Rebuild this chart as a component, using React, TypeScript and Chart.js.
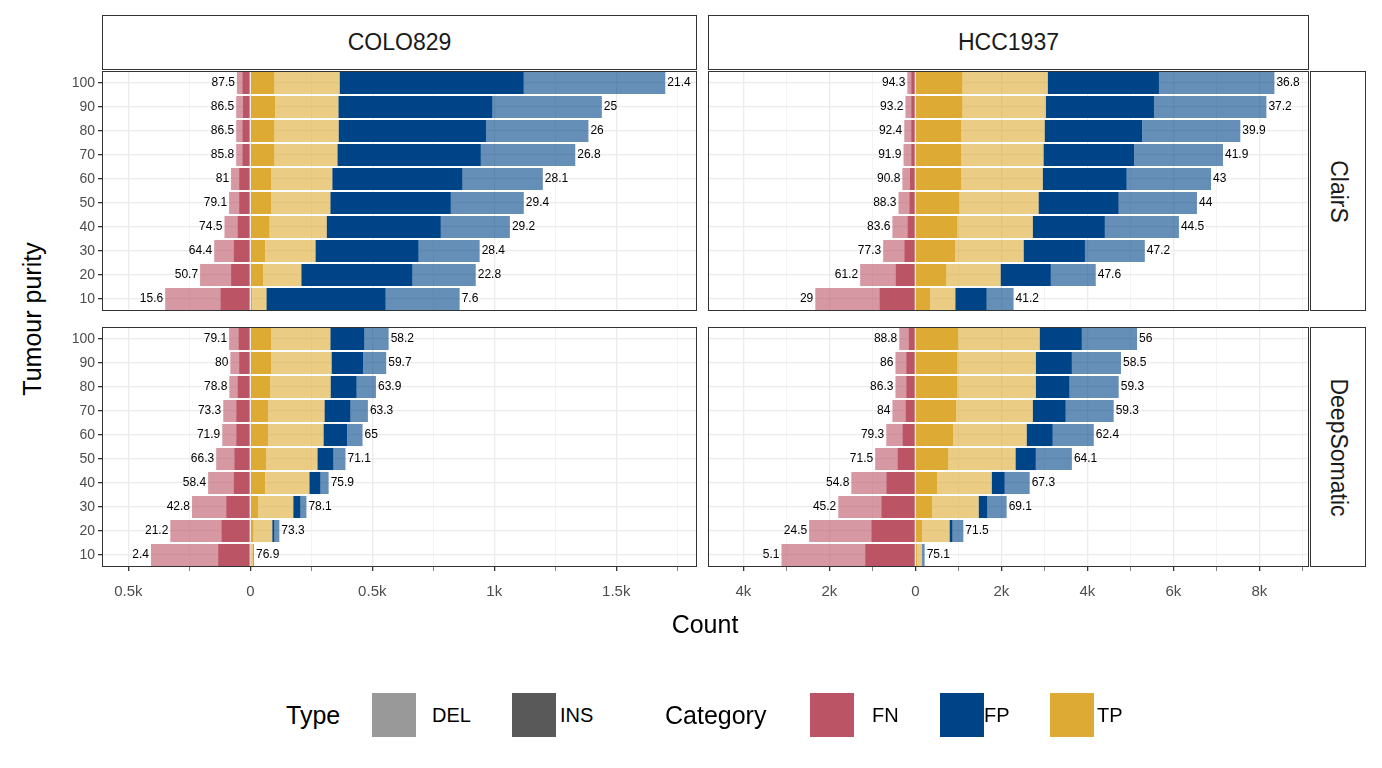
import React, { useEffect, useRef } from "react";
import { Chart, registerables } from "chart.js";
Chart.register(...registerables);

const purity = ["100", "90", "80", "70", "60", "50", "40", "30", "20", "10"];

// COLO829 ClairS
const cc_fn_ins = [33, 30, 33, 33, 46, 46, 53, 69, 79, 123];
const cc_fn_del = [22, 28, 25, 25, 33, 41, 53, 79, 127, 226];
const cc_tp_ins = [99, 102, 99, 99, 86, 86, 79, 61, 53, 8];
const cc_tp_del = [267, 259, 263, 258, 250, 242, 234, 206, 156, 58];
const cc_fp_ins = [755, 632, 604, 588, 534, 494, 468, 423, 456, 489];
const cc_fp_del = [580, 448, 420, 387, 329, 299, 283, 250, 259, 303];
const cc_left = ["87.5", "86.5", "86.5", "85.8", "81", "79.1", "74.5", "64.4", "50.7", "15.6"];
const cc_right = ["21.4", "25", "26", "26.8", "28.1", "29.4", "29.2", "28.4", "22.8", "7.6"];

// COLO829 DeepSomatic
const cd_fn_ins = [49, 46, 53, 58, 58, 66, 69, 99, 119, 132];
const cd_fn_del = [38, 36, 33, 53, 57, 74, 104, 140, 209, 275];
const cd_tp_ins = [86, 86, 82, 74, 74, 66, 61, 33, 13, 2];
const cd_tp_del = [242, 247, 247, 230, 226, 209, 181, 143, 77, 10];
const cd_fp_ins = [140, 130, 107, 107, 97, 66, 46, 30, 9, 1];
const cd_fp_del = [99, 94, 79, 71, 63, 49, 33, 24, 20, 2];
const cd_left = ["79.1", "80", "78.8", "73.3", "71.9", "66.3", "58.4", "42.8", "21.2", "2.4"];
const cd_right = ["58.2", "59.7", "63.9", "63.3", "65", "71.1", "75.9", "78.1", "73.3", "76.9"];

// HCC1937 ClairS
const hc_fn_ins = [98, 98, 98, 98, 125, 143, 187, 259, 464, 838];
const hc_fn_del = [89, 134, 161, 178, 178, 250, 348, 491, 821, 1490];
const hc_tp_ins = [1097, 1097, 1070, 1070, 1070, 1026, 981, 928, 723, 348];
const hc_tp_del = [1980, 1936, 1936, 1909, 1891, 1838, 1748, 1588, 1258, 580];
const hc_fp_ins = [2587, 2515, 2266, 2105, 1953, 1864, 1677, 1427, 1169, 731];
const hc_fp_del = [2685, 2614, 2284, 2069, 1962, 1820, 1722, 1392, 1044, 624];
const hc_left = ["94.3", "93.2", "92.4", "91.9", "90.8", "88.3", "83.6", "77.3", "61.2", "29"];
const hc_right = ["36.8", "37.2", "39.9", "41.9", "43", "44", "44.5", "47.2", "47.6", "41.2"];

// HCC1937 DeepSomatic
const hd_fn_ins = [161, 214, 214, 232, 303, 419, 678, 794, 1026, 1169];
const hd_fn_del = [214, 250, 250, 303, 375, 517, 812, 999, 1445, 1945];
const hd_tp_ins = [999, 981, 981, 954, 883, 767, 508, 392, 161, 36];
const hd_tp_del = [1891, 1820, 1820, 1775, 1704, 1561, 1267, 1079, 633, 116];
const hd_fp_ins = [981, 838, 785, 767, 607, 473, 303, 205, 71, 9];
const hd_fp_del = [1284, 1142, 1142, 1115, 954, 838, 580, 446, 250, 54];
const hd_left = ["88.8", "86", "86.3", "84", "79.3", "71.5", "54.8", "45.2", "24.5", "5.1"];
const hd_right = ["56", "58.5", "59.3", "59.3", "62.4", "64.1", "67.3", "69.1", "71.5", "75.1"];

const coloTicks = [-500, -250, 0, 250, 500, 750, 1000, 1250, 1500, 1750];
const coloMajor = [-500, 0, 500, 1000, 1500];
const coloLabels = ["0.5k", "0", "0.5k", "1k", "1.5k"];
const hccTicks = [-4000, -3000, -2000, -1000, 0, 1000, 2000, 3000, 4000, 5000, 6000, 7000, 8000, 9000];
const hccMajor = [-4000, -2000, 0, 2000, 4000, 6000, 8000];
const hccLabels = ["4k", "2k", "0", "2k", "4k", "6k", "8k"];

const FONT = "'Liberation Sans', Arial, sans-serif";
const C_FN = "#BB5566", C_FN_L = "rgba(187,85,102,0.6)";
const C_TP = "#DDAA33", C_TP_L = "rgba(221,170,51,0.6)";
const C_FP = "#004488", C_FP_L = "rgba(0,68,136,0.6)";

type PanelProps = {
  left: number; top: number; width: number; height: number;
  yAxisW: number; xAxisH: number; showY: boolean; showX: boolean;
  min: number; max: number; ticks: number[]; major: number[]; majorLabels: string[];
  series: number[][]; leftLab: string[]; rightLab: string[];
};

function Panel(p: PanelProps) {
  const ref = useRef<HTMLCanvasElement>(null);
  useEffect(() => {
    const [fnI, fnD, tpI, tpD, fpI, fpD] = p.series;
    const neg = (a: number[]) => a.map((v) => -v);
    const mk = (label: string, data: number[], color: string) => ({
      label, data, backgroundColor: color, borderWidth: 0,
      categoryPercentage: 0.92, barPercentage: 1,
    });
    const labelPlugin = {
      id: "labs",
      afterDatasetsDraw(chart: any) {
        const ctx = chart.ctx;
        const xs = chart.scales.x, ys = chart.scales.y;
        ctx.save();
        ctx.font = `12px ${FONT}`;
        ctx.fillStyle = "#000";
        ctx.textBaseline = "middle";
        purity.forEach((_, i) => {
          const y = ys.getPixelForValue(i);
          const n = fnI[i] + fnD[i];
          const pp = tpI[i] + tpD[i] + fpI[i] + fpD[i];
          ctx.textAlign = "right";
          ctx.fillText(p.leftLab[i], xs.getPixelForValue(-n) - 2, y);
          ctx.textAlign = "left";
          ctx.fillText(p.rightLab[i], xs.getPixelForValue(pp) + 2, y);
        });
        const a = chart.chartArea;
        ctx.strokeStyle = "#333";
        ctx.lineWidth = 1;
        ctx.strokeRect(a.left + 0.5, a.top + 0.5, a.right - a.left - 1, a.bottom - a.top - 1);
        ctx.restore();
      },
    };
    const chart = new Chart(ref.current!, {
      type: "bar",
      data: {
        labels: purity,
        datasets: [
          mk("FN INS", neg(fnI), C_FN), mk("FN DEL", neg(fnD), C_FN_L),
          mk("TP INS", tpI, C_TP), mk("TP DEL", tpD, C_TP_L),
          mk("FP INS", fpI, C_FP), mk("FP DEL", fpD, C_FP_L),
        ],
      },
      options: {
        indexAxis: "y",
        animation: false,
        responsive: false,
        layout: { padding: 0 },
        plugins: { legend: { display: false }, tooltip: { enabled: false } },
        scales: {
          x: {
            stacked: true, min: p.min, max: p.max,
            afterBuildTicks: (s: any) => { s.ticks = p.ticks.map((v) => ({ value: v })); },
            afterFit: (s: any) => { s.height = p.xAxisH; s.paddingLeft = 0; s.paddingRight = 0; },
            border: { display: false },
            grid: {
              color: "#EBEBEB",
              lineWidth: (c: any) => (p.major.includes(c.tick?.value) ? 1.3 : 0.6),
              drawTicks: p.showX, tickLength: 4, tickColor: "#333",
            },
            ticks: {
              display: p.showX, maxRotation: 0, autoSkip: false, padding: 12,
              color: "#4D4D4D", font: { family: FONT, size: 15 },
              callback: (v: any) => { const k = p.major.indexOf(Number(v)); return k >= 0 ? p.majorLabels[k] : ""; },
            },
          },
          y: {
            stacked: true,
            afterFit: (s: any) => { s.width = p.yAxisW; s.paddingTop = 0; s.paddingBottom = 0; },
            border: { display: false },
            grid: { color: "#EBEBEB", lineWidth: 1.3, offset: false, drawTicks: p.showY, tickLength: 4, tickColor: "#333" },
            ticks: { display: p.showY, padding: 3, color: "#4D4D4D", font: { family: FONT, size: 14 } },
          },
        },
      } as any,
      plugins: [labelPlugin],
    });
    return () => chart.destroy();
  }, []);
  return (
    <canvas ref={ref} width={p.width} height={p.height}
      style={{ position: "absolute", left: p.left, top: p.top, width: p.width, height: p.height }} />
  );
}

const stripBox: React.CSSProperties = {
  position: "absolute", border: "1px solid #333", background: "#fff", boxSizing: "border-box",
  display: "flex", alignItems: "center", justifyContent: "center",
  fontFamily: FONT, fontSize: 23, color: "#1A1A1A",
};

function Sw({ x, color }: { x: number; color: string }) {
  return <div style={{ position: "absolute", left: x, top: 693, width: 44, height: 44, background: color }} />;
}
function Tx({ x, t, size = 20 }: { x: number; t: string; size?: number }) {
  return <div style={{ position: "absolute", left: x, top: 715, transform: "translateY(-50%)", fontFamily: FONT, fontSize: size, color: "#000", whiteSpace: "nowrap" }}>{t}</div>;
}

export default function App() {
  const colo = { min: -608, max: 1831, ticks: coloTicks, major: coloMajor, majorLabels: coloLabels };
  const hcc = { min: -4823, max: 9153, ticks: hccTicks, major: hccMajor, majorLabels: hccLabels };
  return (
    <div style={{ position: "absolute", left: 0, top: 0, width: 1382, height: 768, background: "#fff", overflow: "hidden" }}>
      <Panel left={62} top={71} width={635} height={240} yAxisW={40} xAxisH={0} showY showX={false} {...colo}
        series={[cc_fn_ins, cc_fn_del, cc_tp_ins, cc_tp_del, cc_fp_ins, cc_fp_del]} leftLab={cc_left} rightLab={cc_right} />
      <Panel left={708} top={71} width={601} height={240} yAxisW={0} xAxisH={0} showY={false} showX={false} {...hcc}
        series={[hc_fn_ins, hc_fn_del, hc_tp_ins, hc_tp_del, hc_fp_ins, hc_fp_del]} leftLab={hc_left} rightLab={hc_right} />
      <Panel left={62} top={327} width={635} height={285} yAxisW={40} xAxisH={45} showY showX {...colo}
        series={[cd_fn_ins, cd_fn_del, cd_tp_ins, cd_tp_del, cd_fp_ins, cd_fp_del]} leftLab={cd_left} rightLab={cd_right} />
      <Panel left={708} top={327} width={601} height={285} yAxisW={0} xAxisH={45} showY={false} showX {...hcc}
        series={[hd_fn_ins, hd_fn_del, hd_tp_ins, hd_tp_del, hd_fp_ins, hd_fp_del]} leftLab={hd_left} rightLab={hd_right} />

      <div style={{ ...stripBox, left: 102, top: 15, width: 595, height: 55 }}>COLO829</div>
      <div style={{ ...stripBox, left: 708, top: 15, width: 601, height: 55 }}>HCC1937</div>
      <div style={{ ...stripBox, left: 1310, top: 71, width: 56, height: 240 }}>
        <span style={{ transform: "rotate(90deg)", whiteSpace: "nowrap" }}>ClairS</span></div>
      <div style={{ ...stripBox, left: 1310, top: 327, width: 56, height: 240 }}>
        <span style={{ transform: "rotate(90deg)", whiteSpace: "nowrap" }}>DeepSomatic</span></div>

      <div style={{ position: "absolute", left: 32, top: 319, transform: "translate(-50%,-50%) rotate(-90deg)", fontFamily: FONT, fontSize: 25, whiteSpace: "nowrap" }}>Tumour purity</div>
      <div style={{ position: "absolute", left: 705, top: 624, transform: "translate(-50%,-50%)", fontFamily: FONT, fontSize: 25 }}>Count</div>

      <Tx x={286} t="Type" size={25} />
      <Sw x={372} color="#999999" />
      <Tx x={432} t="DEL" />
      <Sw x={512} color="#595959" />
      <Tx x={560} t="INS" />
      <Tx x={665} t="Category" size={25} />
      <Sw x={810} color={C_FN} />
      <Tx x={872} t="FN" />
      <Sw x={940} color={C_FP} />
      <Tx x={984} t="FP" />
      <Sw x={1050} color={C_TP} />
      <Tx x={1097} t="TP" />
    </div>
  );
}
